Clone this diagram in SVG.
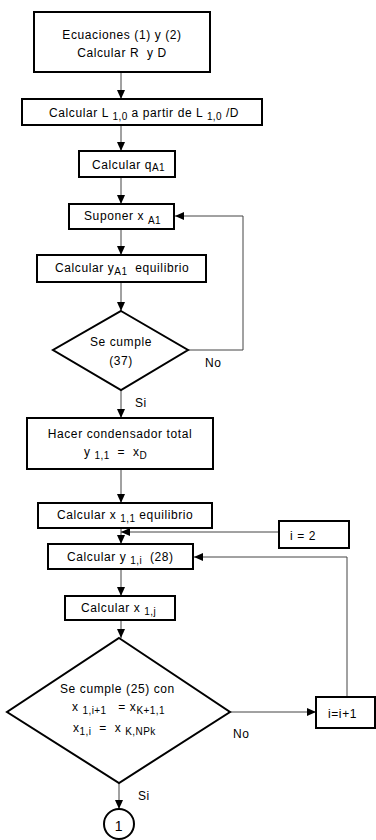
<svg xmlns="http://www.w3.org/2000/svg" width="376" height="840" viewBox="0 0 376 840">
<style>
.box{fill:#fff;stroke:#000;stroke-width:2}
.conn{fill:none;stroke:#444;stroke-width:1}
text{font-family:"Liberation Sans",Arial,sans-serif;font-size:12px;letter-spacing:0.6px;fill:#000;white-space:pre}
.c{text-anchor:middle}
.s{font-size:10px;letter-spacing:0.4px}
</style>
<defs>
<marker id="arr" markerUnits="userSpaceOnUse" markerWidth="10" markerHeight="8" refX="9" refY="4" orient="auto">
<path d="M0,0 L9,4 L0,8 Z" fill="#000"/>
</marker>
</defs>
<rect width="376" height="840" fill="#fff"/>
<g id="connectors">
<line class="conn" x1="121" y1="72" x2="121" y2="99" marker-end="url(#arr)"/>
<line class="conn" x1="121" y1="125" x2="121" y2="151" marker-end="url(#arr)"/>
<line class="conn" x1="121" y1="177" x2="121" y2="204" marker-end="url(#arr)"/>
<line class="conn" x1="121" y1="229" x2="121" y2="255" marker-end="url(#arr)"/>
<line class="conn" x1="121" y1="282" x2="121" y2="311" marker-end="url(#arr)"/>
<polyline class="conn" points="188,350 243,350 243,216 175,216" marker-end="url(#arr)"/>
<line class="conn" x1="121" y1="390" x2="121" y2="418" marker-end="url(#arr)"/>
<line class="conn" x1="121" y1="469" x2="121" y2="503" marker-end="url(#arr)"/>
<line class="conn" x1="121" y1="528" x2="121" y2="544" marker-end="url(#arr)"/>
<line class="conn" x1="279" y1="532" x2="121" y2="532" marker-end="url(#arr)"/>
<line class="conn" x1="121" y1="569" x2="121" y2="596" marker-end="url(#arr)"/>
<line class="conn" x1="121" y1="620" x2="121" y2="638" marker-end="url(#arr)"/>
<line class="conn" x1="230" y1="712" x2="316" y2="712" marker-end="url(#arr)"/>
<polyline class="conn" points="347,697 347,557 194,557" marker-end="url(#arr)"/>
<line class="conn" x1="119" y1="783" x2="119" y2="809" marker-end="url(#arr)"/>
<text x="205" y="367">No</text>
<text x="135" y="407">Si</text>
<text x="233" y="738">No</text>
<text x="138" y="800">Si</text>
</g>
<g id="n1">
<rect class="box" x="34" y="12" width="176" height="60"/>
<text class="c" x="122" y="39">Ecuaciones (1) y (2)</text>
<text class="c" x="122" y="57">Calcular R  y D</text>
</g>
<g id="n2">
<rect class="box" x="22" y="99" width="240" height="26"/>
<text x="49" y="117">Calcular L <tspan class="s" dy="3">1,0</tspan><tspan dy="-3"> a partir de L </tspan><tspan class="s" dy="3">1,0</tspan><tspan dy="-3"> /D</tspan></text>
</g>
<g id="n3">
<rect class="box" x="79" y="151" width="96" height="26"/>
<text x="92" y="169">Calcular q<tspan class="s" dy="2">A1</tspan></text>
</g>
<g id="n4">
<rect class="box" x="69" y="204" width="105" height="25"/>
<text x="84" y="220">Suponer x <tspan class="s" dy="4">A1</tspan></text>
</g>
<g id="n5">
<rect class="box" x="37" y="255" width="169" height="27"/>
<text x="55" y="272">Calcular y<tspan class="s" dy="3">A1</tspan><tspan dy="-3">  equilibrio</tspan></text>
</g>
<g id="d1">
<polygon class="box" points="121,311 188,350 121,390 53,350"/>
<text class="c" x="121" y="346">Se cumple</text>
<text class="c" x="121" y="365">(37)</text>
</g>
<g id="n6">
<rect class="box" x="27" y="418" width="186" height="51"/>
<text class="c" x="120" y="438">Hacer condensador total</text>
<text x="84" y="456">y <tspan class="s" dy="3">1,1</tspan><tspan dy="-3">  =  x</tspan><tspan class="s" dy="3">D</tspan></text>
</g>
<g id="n7">
<rect class="box" x="38" y="503" width="174" height="25"/>
<text x="57" y="519">Calcular x <tspan class="s" dy="3">1,1</tspan><tspan dy="-3"> equilibrio</tspan></text>
</g>
<g id="n8">
<rect class="box" x="279" y="521" width="70" height="27"/>
<text x="290" y="540">i = 2</text>
</g>
<g id="n9">
<rect class="box" x="48" y="544" width="145" height="25"/>
<text x="67" y="561">Calcular y <tspan class="s" dy="3">1,i</tspan><tspan dy="-3">  (28)</tspan></text>
</g>
<g id="n10">
<rect class="box" x="65" y="596" width="110" height="24"/>
<text x="81" y="612">Calcular x <tspan class="s" dy="3">1,j</tspan></text>
</g>
<g id="d2">
<polygon class="box" points="119,638 230,712 119,783 7,712"/>
<text x="60" y="693">Se cumple (25) con</text>
<text x="72" y="711">x <tspan class="s" dy="3">1,i+1</tspan><tspan dy="-3">   = x</tspan><tspan class="s" dy="3">K+1,1</tspan></text>
<text x="73" y="732">x<tspan class="s" dy="3">1,i</tspan><tspan dy="-3">  =  x </tspan><tspan class="s" dy="3">K,NPk</tspan></text>
</g>
<g id="n11">
<rect class="box" x="316" y="697" width="59" height="31"/>
<text x="328" y="718">i=i+1</text>
</g>
<g id="n12">
<circle class="box" cx="119" cy="824" r="15"/>
<text class="c" x="119" y="831" style="font-size:14px">1</text>
</g>
</svg>
